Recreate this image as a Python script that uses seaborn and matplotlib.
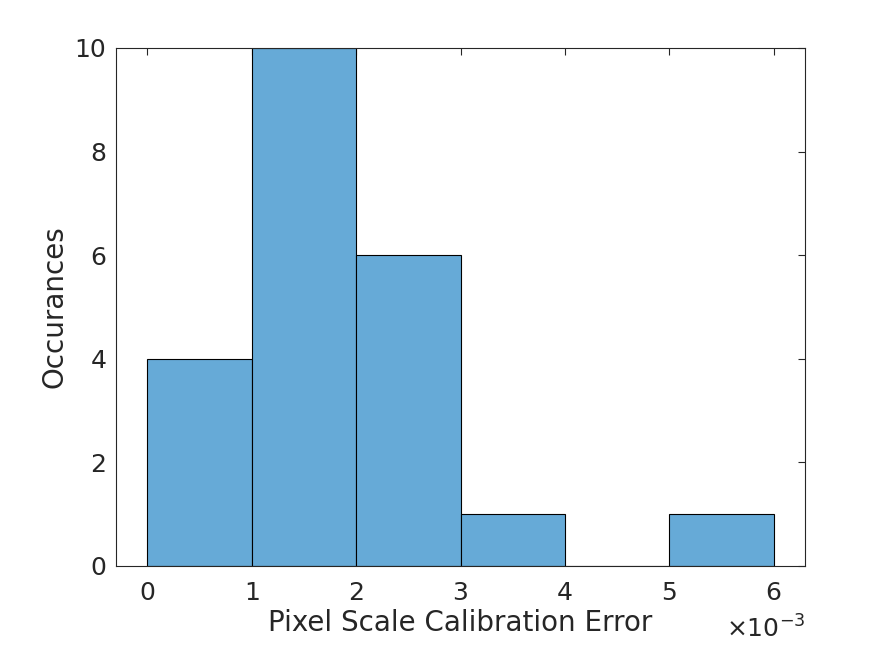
import matplotlib
matplotlib.use("Agg")
import matplotlib.pyplot as plt
import numpy as np
import seaborn as sns

# histogram of pixel scale calibration error (x in units of 1e-3)
bin_edges = [0, 1, 2, 3, 4, 5, 6]
bin_counts = [4, 10, 6, 1, 0, 1]
x_ticks = [0, 1, 2, 3, 4, 5, 6]
y_ticks = [0, 2, 4, 6, 8, 10]

sns.set_theme(style="white")
plt.rcParams["font.family"] = ["DejaVu Sans"]

TEXT = "#262626"
BAR = "#66AAD7"

centers = [(a + b) / 2 for a, b in zip(bin_edges[:-1], bin_edges[1:])]

fig = plt.figure(figsize=(8.91, 6.45), dpi=100)
ax = fig.add_axes([0.1302, 0.1225, 0.7733, 0.8031])

sns.histplot(x=centers, weights=bin_counts, bins=bin_edges, ax=ax,
             color=BAR, alpha=1.0, edgecolor="black", linewidth=0.8)

ax.set_xlim(-0.3, 6.3)
ax.set_ylim(0, 10)
ax.set_xticks(x_ticks)
ax.set_yticks(y_ticks)
ax.tick_params(direction="in", top=True, right=True, length=5, width=0.8,
               colors=TEXT, labelsize=18, labelcolor=TEXT)
ax.tick_params(axis="x", pad=11)
ax.tick_params(axis="y", pad=7)
for s in ax.spines.values():
    s.set_color(TEXT)
    s.set_linewidth(0.8)

ax.set_xlabel("Pixel Scale Calibration Error", fontsize=20, color=TEXT, labelpad=3)
ax.set_ylabel("Occurances", fontsize=20, color=TEXT, labelpad=4)

# MATLAB-style exponent label
fig.text(0.9035, 0.004, r"$\times10^{-3}$", ha="right", va="bottom",
         fontsize=18, color=TEXT)

fig.savefig("out.png", dpi=100)
